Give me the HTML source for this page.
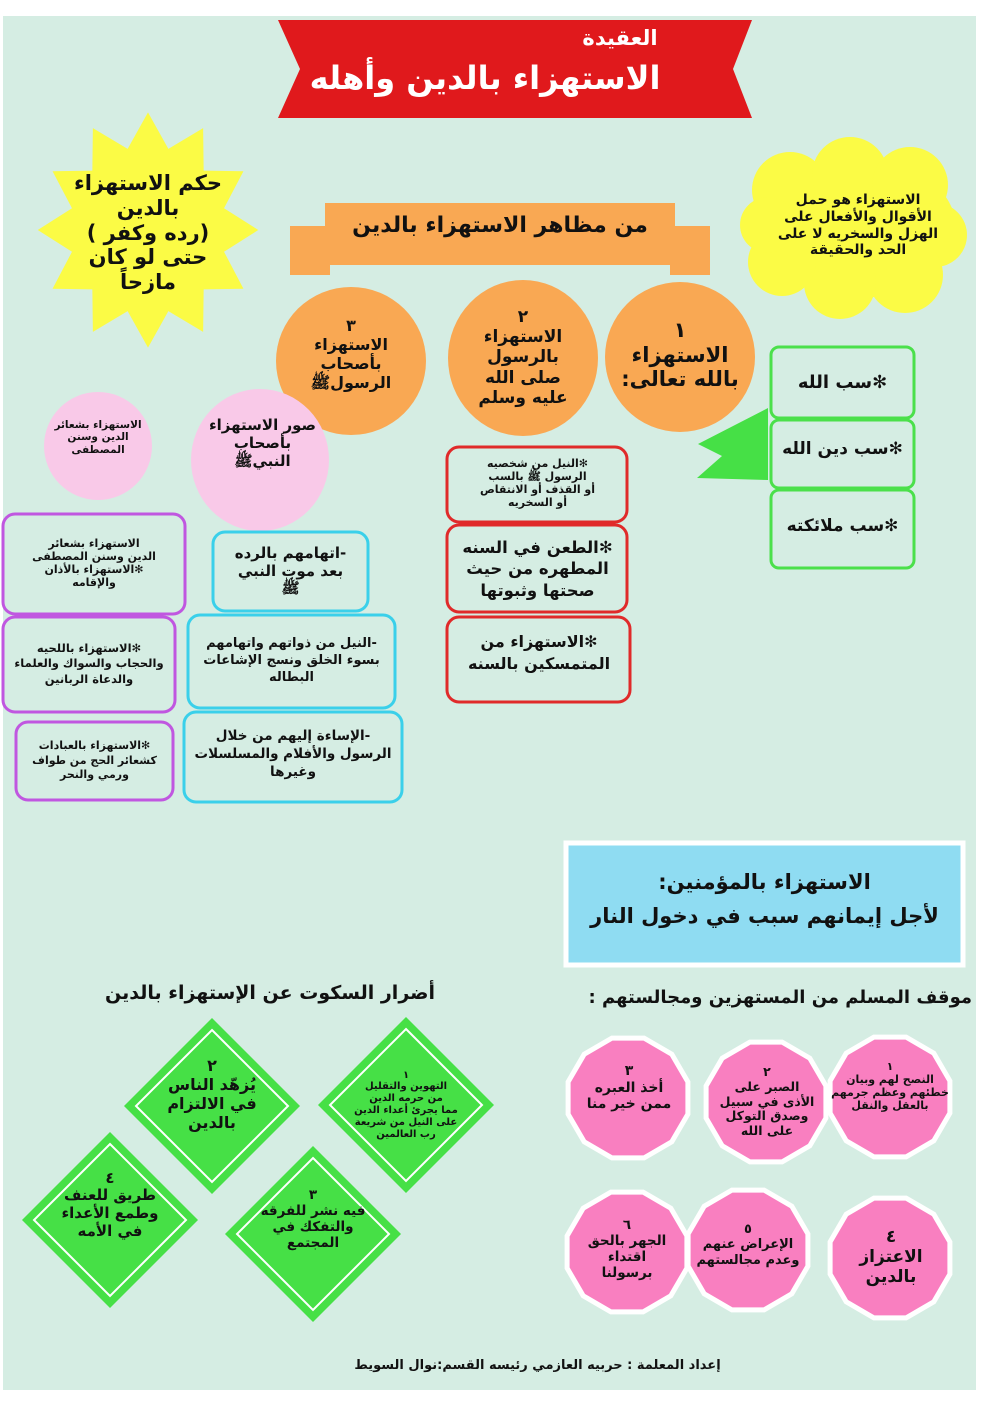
<!DOCTYPE html>
<html><head><meta charset="utf-8">
<style>
body{margin:0;background:#fff;}
#w{position:relative;width:992px;height:1403px;overflow:hidden;font-family:"DejaVu Sans",sans-serif;font-weight:bold;color:#111;}
svg{position:absolute;left:0;top:0;}
.t{position:absolute;display:flex;align-items:center;justify-content:center;text-align:center;direction:rtl;line-height:1.18;white-space:nowrap;}
</style></head><body><div id="w">
<svg width="992" height="1403">
<defs>
<polygon id="dd" points="59.9,16.1 43.8,43.8 16.1,59.9 -16.1,59.9 -43.8,43.8 -59.9,16.1 -59.9,-16.1 -43.8,-43.8 -16.1,-59.9 16.1,-59.9 43.8,-43.8 59.9,-16.1" fill="#f97fc0" stroke="#fff" stroke-width="5"/>
<g id="dm"><polygon points="0,-88 88,0 0,88 -88,0" fill="#46e046"/><polygon points="0,-76 76,0 0,76 -76,0" fill="none" stroke="#fff" stroke-width="2"/></g>
</defs>
<rect x="3" y="16" width="973" height="1374" fill="#d5ede3"/>
<polygon points="278,20 752,20 733,69 752,118 278,118 300,69" fill="#e0191c"/>
<polygon points="148,118 167.4,152.7 200.5,133 201,173.4 238.9,174 220.4,209.3 253,230 220.4,250.7 238.9,286 201,286.6 200.5,327 167.4,307.3 148,342 128.6,307.3 95.5,327 95,286.6 57.1,286 75.6,250.7 43,230 75.6,209.3 57.1,174 95,173.4 95.5,133 128.6,152.7" fill="#fbfb45" transform="translate(148,230) scale(1.05) translate(-148,-230)"/>
<g fill="#fbfb45"><ellipse cx="858" cy="228" rx="98" ry="70"/><circle cx="790" cy="190" r="38"/><circle cx="850" cy="175" r="38"/><circle cx="910" cy="185" r="38"/><circle cx="935" cy="235" r="32"/><circle cx="905" cy="275" r="38"/><circle cx="840" cy="283" r="36"/><circle cx="782" cy="262" r="34"/><circle cx="768" cy="225" r="28"/></g>
<g fill="#f9a853"><rect x="290" y="226" width="40" height="49"/><rect x="670" y="226" width="40" height="49"/><rect x="325" y="203" width="350" height="62"/></g>
<g fill="#f9a853"><circle cx="680" cy="357" r="75"/><ellipse cx="523" cy="358" rx="75" ry="78"/><ellipse cx="351" cy="361" rx="75" ry="74"/></g>
<polygon points="768,408 768,480 697,478 722,456 698,444" fill="#46e046"/>
<g fill="none" stroke="#4be04b" stroke-width="3"><rect x="771" y="347" width="143" height="71" rx="8"/><rect x="771" y="420" width="143" height="68" rx="8"/><rect x="771" y="490" width="143" height="78" rx="8"/></g>
<g fill="none" stroke="#e02a2a" stroke-width="3"><rect x="447" y="447" width="180" height="75" rx="12"/><rect x="447" y="525" width="180" height="87" rx="12"/><rect x="447" y="617" width="183" height="85" rx="12"/></g>
<g fill="#f9c9e8"><circle cx="98" cy="446" r="54"/><ellipse cx="260" cy="460" rx="69" ry="71"/></g>
<g fill="none" stroke="#c057e0" stroke-width="3"><rect x="3" y="514" width="182" height="100" rx="12"/><rect x="3" y="617" width="172" height="95" rx="12"/><rect x="16" y="722" width="157" height="78" rx="12"/></g>
<g fill="none" stroke="#3ad0ea" stroke-width="3"><rect x="213" y="532" width="155" height="79" rx="12"/><rect x="188" y="615" width="207" height="93" rx="12"/><rect x="184" y="712" width="218" height="90" rx="12"/></g>
<rect x="566" y="843" width="397" height="122" fill="#8fdcf2" stroke="#fff" stroke-width="5"/>
<use href="#dd" x="628" y="1098"/><use href="#dd" x="766" y="1102"/><use href="#dd" x="890" y="1097"/>
<use href="#dd" x="627" y="1252"/><use href="#dd" x="748" y="1250"/><use href="#dd" x="890" y="1258"/>
<use href="#dm" x="406" y="1105"/><use href="#dm" x="212" y="1106"/><use href="#dm" x="110" y="1220"/><use href="#dm" x="313" y="1234"/>
</svg>

<div class="t" style="left:560px;top:24px;width:120px;height:28px;font-size:21px;color:#fff;">العقيدة</div>
<div class="t" style="left:300px;top:54px;width:370px;height:50px;font-size:32px;color:#fff;">الاستهزاء بالدين وأهله</div>

<div class="t" style="left:58px;top:158px;width:180px;height:150px;font-size:21px;">حكم الاستهزاء<br>بالدين<br>(رده وكفر )<br>حتى لو كان<br>مازحاً</div>
<div class="t" style="left:768px;top:178px;width:180px;height:95px;font-size:14px;">الاستهزاء هو حمل<br>الأقوال والأفعال على<br>الهزل والسخريه لا على<br>الحد والحقيقة</div>

<div class="t" style="left:330px;top:205px;width:340px;height:42px;font-size:22px;">من مظاهر الاستهزاء بالدين</div>

<div class="t" style="left:605px;top:305px;width:150px;height:100px;font-size:21px;">١<br>الاستهزاء<br>بالله تعالى:</div>
<div class="t" style="left:448px;top:290px;width:150px;height:135px;font-size:17px;">٢<br>الاستهزاء<br>بالرسول<br>صلى الله<br>عليه وسلم</div>
<div class="t" style="left:276px;top:305px;width:150px;height:100px;font-size:16px;">٣<br>الاستهزاء<br>بأصحاب<br>الرسولﷺ</div>

<div class="t" style="left:771px;top:347px;width:143px;height:71px;font-size:18px;">✻سب الله</div>
<div class="t" style="left:771px;top:420px;width:143px;height:58px;font-size:17px;">✻سب دين الله</div>
<div class="t" style="left:771px;top:490px;width:143px;height:72px;font-size:17px;">✻سب ملائكته</div>

<div class="t" style="left:450px;top:449px;width:175px;height:70px;font-size:11px;">✻النيل من شخصيه<br>الرسول ﷺ بالسب<br>أو القذف أو الانتقاص<br>أو السخريه</div>
<div class="t" style="left:450px;top:528px;width:175px;height:82px;font-size:16.5px;line-height:1.3;">✻الطعن في السنه<br>المطهره من حيث<br>صحتها وثبوتها</div>
<div class="t" style="left:450px;top:620px;width:178px;height:66px;font-size:16px;line-height:1.4;">✻الاستهزاء من<br>المتمسكين بالسنه</div>

<div class="t" style="left:44px;top:410px;width:108px;height:55px;font-size:10.5px;">الاستهزاء بشعائر<br>الدين وسنن<br>المصطفى</div>
<div class="t" style="left:195px;top:410px;width:135px;height:68px;font-size:15px;">صور الاستهزاء<br>بأصحاب<br>النبيﷺ</div>

<div class="t" style="left:5px;top:516px;width:178px;height:96px;font-size:11px;">الاستهزاء بشعائر<br>الدين وسنن المصطفى<br>✻الاستهزاء بالأذان<br>والإقامه</div>
<div class="t" style="left:5px;top:619px;width:168px;height:90px;font-size:11.5px;line-height:1.35;">✻الاستهزاء باللحيه<br>والحجاب والسواك والعلماء<br>والدعاة الربانين</div>
<div class="t" style="left:18px;top:724px;width:153px;height:74px;font-size:11px;line-height:1.35;">✻الاستهزاء بالعبادات<br>كشعائر الحج من طواف<br>ورمي والنحر</div>

<div class="t" style="left:215px;top:534px;width:151px;height:75px;font-size:15px;">-اتهامهم بالرده<br>بعد موت النبي<br>ﷺ</div>
<div class="t" style="left:190px;top:617px;width:203px;height:89px;font-size:13px;line-height:1.3;">-النيل من ذواتهم واتهامهم<br>بسوء الخلق ونسج الإشاعات<br>البطاله</div>
<div class="t" style="left:186px;top:714px;width:214px;height:80px;font-size:13.5px;line-height:1.35;">-الإساءة إليهم من خلال<br>الرسول والأفلام والمسلسلات<br>وغيرها</div>

<div class="t" style="left:568px;top:855px;width:393px;height:90px;font-size:21px;line-height:1.6;">الاستهزاء بالمؤمنين:<br>لأجل إيمانهم سبب في دخول النار</div>

<div class="t" style="left:560px;top:980px;width:412px;height:36px;font-size:18px;justify-content:flex-start;">موقف المسلم من المستهزين ومجالستهم :</div>
<div class="t" style="left:70px;top:975px;width:400px;height:36px;font-size:19px;">أضرار السكوت عن الإستهزاء بالدين</div>

<div class="t" style="left:828px;top:1052px;width:124px;height:70px;font-size:11px;">١<br>النصح لهم وبيان<br>خطئهم وعظم جرمهم<br>بالعقل والنقل</div>
<div class="t" style="left:712px;top:1052px;width:110px;height:100px;font-size:12.5px;">٢<br>الصبر على<br>الأذى في سبيل<br>وصدق التوكل<br>على الله</div>
<div class="t" style="left:574px;top:1058px;width:110px;height:60px;font-size:14px;">٣<br>أخذ العبره<br>ممن خير منا</div>
<div class="t" style="left:836px;top:1222px;width:110px;height:70px;font-size:17px;">٤<br>الاعتزاز<br>بالدين</div>
<div class="t" style="left:692px;top:1215px;width:112px;height:60px;font-size:13px;">٥<br>الإعراض عنهم<br>وعدم مجالستهم</div>
<div class="t" style="left:572px;top:1210px;width:110px;height:80px;font-size:13.5px;">٦<br>الجهر بالحق<br>اقتداء<br>برسولنا</div>

<div class="t" style="left:336px;top:1055px;width:140px;height:100px;font-size:10px;">١<br>التهوين والتقليل<br>من حرمه الدين<br>مما يجرئ أعداء الدين<br>على النيل من شريعة<br>رب العالمين</div>
<div class="t" style="left:142px;top:1050px;width:140px;height:90px;font-size:16px;">٢<br>يُزهّد الناس<br>في الالتزام<br>بالدين</div>
<div class="t" style="left:40px;top:1165px;width:140px;height:80px;font-size:15px;">٤<br>طريق للعنف<br>وطمع الأعداء<br>في الأمه</div>
<div class="t" style="left:243px;top:1180px;width:140px;height:80px;font-size:13.5px;">٣<br>فيه نشر للفرقه<br>والتفكك في<br>المجتمع</div>

<div class="t" style="left:300px;top:1354px;width:475px;height:24px;font-size:13px;">إعداد المعلمة : حربيه العازمي رئيسه القسم:نوال السويط</div>
</div></body></html>
